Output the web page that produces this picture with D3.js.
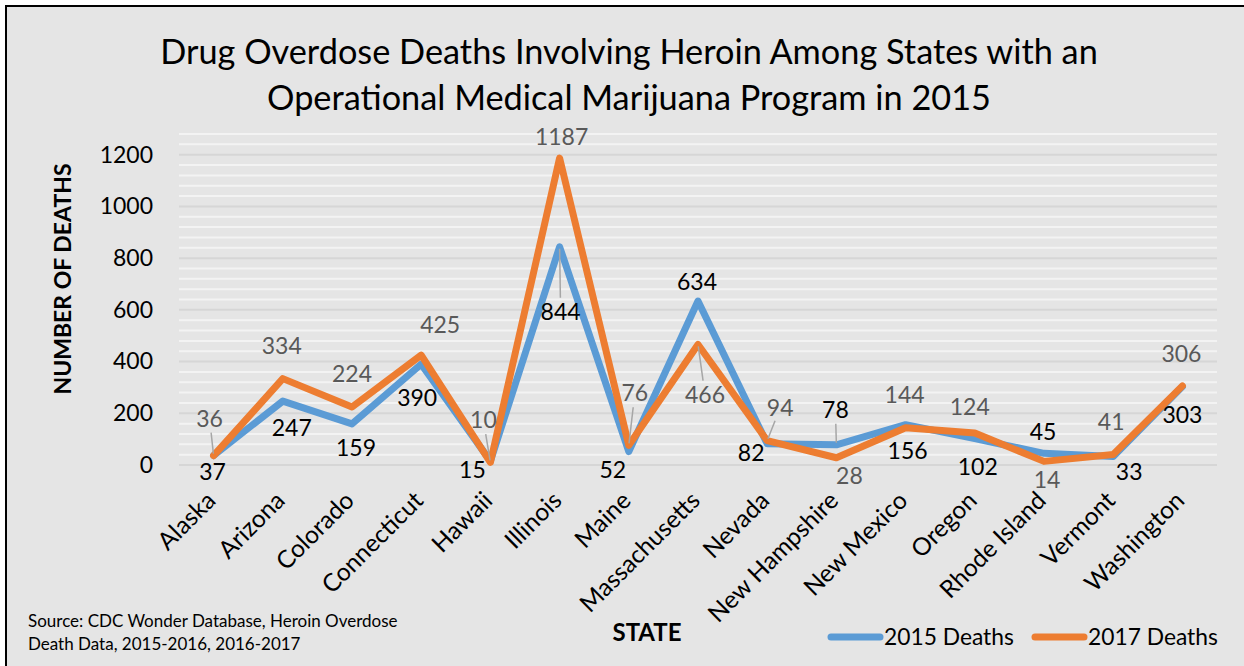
<!DOCTYPE html>
<html>
<head>
<meta charset="utf-8">
<script src="https://cdn.jsdelivr.net/npm/d3@7"></script>
<style>
  html, body { margin: 0; padding: 0; background: #ffffff; }
  svg { display: block; }
  text { font-family: Lato, "Open Sans", sans-serif; }
</style>
</head>
<body>
<svg id="chart" width="1244" height="666"></svg>
<script>
// ---- data ----
const states = ["Alaska","Arizona","Colorado","Connecticut","Hawaii","Illinois","Maine","Massachusetts","Nevada","New Hampshire","New Mexico","Oregon","Rhode Island","Vermont","Washington"];
const deaths2015 = [37,247,159,390,15,844,52,634,82,78,156,102,45,33,303];
const deaths2017 = [36,334,224,425,10,1187,76,466,94,28,144,124,14,41,306];
const yTicks = [0,200,400,600,800,1000,1200];
const seriesNames = ["2015 Deaths","2017 Deaths"];
const titleLines = ["Drug Overdose Deaths Involving Heroin Among States with an","Operational Medical Marijuana Program in 2015"];
const sourceLines = ["Source: CDC Wonder Database, Heroin Overdose","Death Data, 2015-2016,  2016-2017"];

// ---- label layout (offsets of data labels from their points, in px) ----
const labelOffset2015 = [[-1,17],[9,27],[4,24],[-4,34],[-18,9],[1,65],[-16,18],[-1,-19],[-16,9],[-1,-35],[2,26],[3,28],[-1,-21],[16,15],[0,28]];
const labelOffset2017 = [[-4,-37],[-1,-33],[0,-33],[19,-30],[-7,-42],[2,-21],[6,-52],[7,50],[13,-33],[13,18],[-1,-33],[-5,-26],[3,19],[-2,-32],[-1,-32]];
const leader2015 = [0,0,0,0,0,1,0,0,0,1,0,0,0,0,0];
const leader2017 = [1,0,0,0,1,0,1,1,1,0,0,0,0,0,0];

const W = 1244, H = 666;
const blue = "#5b9bd5", orange = "#ed7d31";
const svg = d3.select("#chart");

// background + frame
svg.append("rect").attr("x",0).attr("y",0).attr("width",W).attr("height",H).attr("fill","#ffffff");
svg.append("rect").attr("x",6).attr("y",6).attr("width",W+20).attr("height",H+20)
  .attr("fill","#e5e5e5").attr("stroke","#000").attr("stroke-width",2);

const plot = {left:179, right:1217, top:134, bottom:465};
const x = d3.scalePoint().domain(states).range([plot.left, plot.right]).padding(0.5);
const y = d3.scaleLinear().domain([0,1280]).range([plot.bottom, plot.top]);

// gridlines: minor every 40 (white), major every 200 (gray)
const minor = d3.range(40, 1281, 40).filter(v => v % 200 !== 0);
svg.append("g").selectAll("line").data(minor).join("line")
  .attr("x1",plot.left).attr("x2",plot.right)
  .attr("y1",d=>y(d)).attr("y2",d=>y(d))
  .attr("stroke","#f3f3f3").attr("stroke-width",2);
svg.append("g").selectAll("line").data(yTicks).join("line")
  .attr("x1",plot.left).attr("x2",plot.right)
  .attr("y1",d=>y(d)).attr("y2",d=>y(d))
  .attr("stroke","#d6d6d6").attr("stroke-width",2);

// y axis
const yAxis = d3.axisLeft(y).tickValues(yTicks).tickFormat(d3.format("d")).tickSize(0).tickPadding(0);
const gy = svg.append("g").attr("transform",`translate(153,0)`).call(yAxis);
gy.select(".domain").remove();
gy.selectAll("text").attr("font-size",23).attr("fill","#000").attr("font-family","Lato, sans-serif");

// x axis labels
const xAxis = d3.axisBottom(x).tickSize(0).tickPadding(0);
const gx = svg.append("g").attr("transform",`translate(0,${plot.bottom})`).call(xAxis);
gx.select(".domain").remove();
gx.selectAll("text")
  .attr("font-size",24.5).attr("fill","#000").attr("font-family","Lato, sans-serif")
  .attr("text-anchor","end")
  .attr("dy","0.35em")
  .attr("transform","translate(-3,31) rotate(-45)");

// lines
const line = d3.line().x((d,i)=>x(states[i])).y(d=>y(d));
svg.append("path").datum(deaths2015).attr("d",line)
  .attr("fill","none").attr("stroke",blue).attr("stroke-width",7)
  .attr("stroke-linejoin","round").attr("stroke-linecap","round");
svg.append("path").datum(deaths2017).attr("d",line)
  .attr("fill","none").attr("stroke",orange).attr("stroke-width",7)
  .attr("stroke-linejoin","round").attr("stroke-linecap","round");

// data labels
function drawLabels(vals, offs, leaders, color) {
  const g = svg.append("g");
  vals.forEach((v,i)=>{
    const px = x(states[i]), py = y(v);
    const lx = px + offs[i][0], ly = py + offs[i][1];
    if (leaders[i]) {
      const dx = px - lx, dy = py - ly;
      const len = Math.hypot(dx,dy);
      const ux = dx/len, uy = dy/len;
      const r = 14;
      g.append("line")
        .attr("x1", lx + ux*r).attr("y1", ly + uy*r)
        .attr("x2", px - ux*2).attr("y2", py - uy*2)
        .attr("stroke","#a6a6a6").attr("stroke-width",1.5);
    }
    g.append("text").attr("x",lx).attr("y",ly).attr("dy","0.35em")
      .attr("text-anchor","middle").attr("font-size",23).attr("fill",color)
      .text(v);
  });
}
drawLabels(deaths2015, labelOffset2015, leader2015, "#000000");
drawLabels(deaths2017, labelOffset2017, leader2017, "#595959");

// title
svg.append("g").selectAll("text").data(titleLines).join("text")
  .attr("x",629).attr("y",(d,i)=>52+i*46).attr("dy","0.35em")
  .attr("text-anchor","middle").attr("font-size",34.3).attr("fill","#000")
  .text(d=>d);

// axis titles
svg.append("text").attr("transform","translate(63,279) rotate(-90)")
  .attr("text-anchor","middle").attr("dy","0.35em")
  .attr("font-size",23).attr("font-weight","bold").attr("fill","#000")
  .text("NUMBER OF DEATHS");
svg.append("text").attr("x",647).attr("y",633).attr("dy","0.35em")
  .attr("text-anchor","middle").attr("font-size",24).attr("font-weight","bold").attr("fill","#000")
  .text("STATE");

// source
svg.append("g").selectAll("text").data(sourceLines).join("text")
  .attr("x",28).attr("y",(d,i)=>621+i*23).attr("dy","0.35em")
  .attr("font-size",17).attr("fill","#000")
  .text(d=>d);

// legend
const legendX = [828, 1032];
const legendColors = [blue, orange];
seriesNames.forEach((name,i)=>{
  const lg = svg.append("g").attr("transform",`translate(${legendX[i]},637)`);
  lg.append("line").attr("x1",3).attr("x2",52).attr("y1",0).attr("y2",0)
    .attr("stroke",legendColors[i]).attr("stroke-width",7).attr("stroke-linecap","round");
  lg.append("text").attr("x",56).attr("y",0).attr("dy","0.35em")
    .attr("font-size",22.8).attr("fill","#000").text(name);
});
</script>
</body>
</html>
